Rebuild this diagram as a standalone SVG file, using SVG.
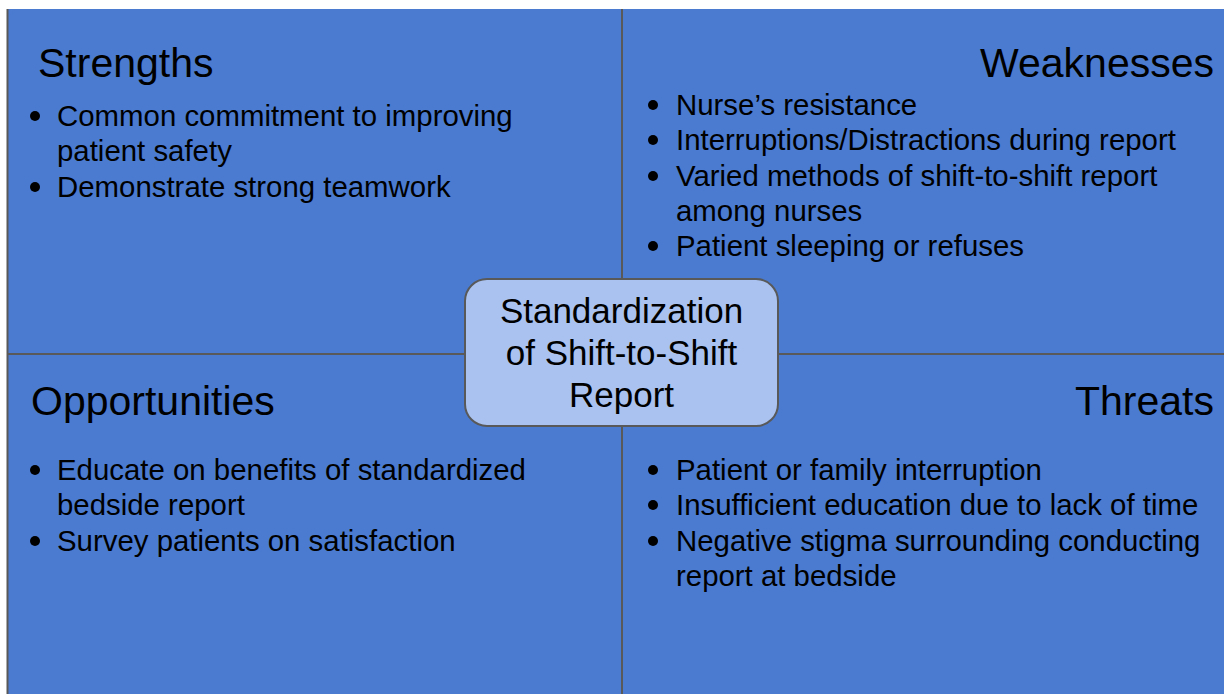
<svg xmlns="http://www.w3.org/2000/svg" width="1224" height="694" viewBox="0 0 1224 694">
  <style>
    text { font-family: "Liberation Sans", Arial, sans-serif; fill: #000000; }
    .heading { font-size: 41px; }
    .item { font-size: 29.4px; }
    .center { font-size: 35px; text-anchor: middle; }
    .divider { stroke: #595959; stroke-width: 2; fill: none; }
    .bullet { fill: #000000; }
    .hub { fill: #a9c2f0; stroke: #595959; stroke-width: 2; }
  </style>

  <!-- page and quadrant background -->
  <rect x="0" y="0" width="1224" height="694" fill="#ffffff"/>
  <rect x="7" y="9" width="1217" height="685" fill="#4a7bd1"/>

  <!-- quadrant dividers -->
  <g id="connectors">
    <line class="divider" x1="7.5" y1="9" x2="7.5" y2="694"/>
    <line class="divider" x1="622" y1="9" x2="622" y2="694"/>
    <line class="divider" x1="7" y1="354" x2="1224" y2="354"/>
  </g>

  <!-- Strengths quadrant -->
  <g id="strengths">
    <text class="heading" x="38" y="77">Strengths</text>
    <circle class="bullet" cx="35" cy="116" r="5"/>
    <text class="item" x="57" y="126">Common commitment to improving</text>
    <text class="item" x="57" y="161">patient safety</text>
    <circle class="bullet" cx="35" cy="187" r="5"/>
    <text class="item" x="57" y="197">Demonstrate strong teamwork</text>
  </g>

  <!-- Weaknesses quadrant -->
  <g id="weaknesses">
    <text class="heading" x="1214" y="77" text-anchor="end">Weaknesses</text>
    <circle class="bullet" cx="653" cy="105" r="5"/>
    <text class="item" x="676" y="115">Nurse’s resistance</text>
    <circle class="bullet" cx="653" cy="140" r="5"/>
    <text class="item" x="676" y="150">Interruptions/Distractions during report</text>
    <circle class="bullet" cx="653" cy="176" r="5"/>
    <text class="item" x="676" y="186">Varied methods of shift-to-shift report</text>
    <text class="item" x="676" y="221">among nurses</text>
    <circle class="bullet" cx="653" cy="246" r="5"/>
    <text class="item" x="676" y="256">Patient sleeping or refuses</text>
  </g>

  <!-- Opportunities quadrant -->
  <g id="opportunities">
    <text class="heading" x="31" y="415">Opportunities</text>
    <circle class="bullet" cx="35" cy="470" r="5"/>
    <text class="item" x="57" y="480">Educate on benefits of standardized</text>
    <text class="item" x="57" y="515">bedside report</text>
    <circle class="bullet" cx="35" cy="541" r="5"/>
    <text class="item" x="57" y="551">Survey patients on satisfaction</text>
  </g>

  <!-- Threats quadrant -->
  <g id="threats">
    <text class="heading" x="1214" y="415" text-anchor="end">Threats</text>
    <circle class="bullet" cx="653" cy="470" r="5"/>
    <text class="item" x="676" y="480">Patient or family interruption</text>
    <circle class="bullet" cx="653" cy="505" r="5"/>
    <text class="item" x="676" y="515">Insufficient education due to lack of time</text>
    <circle class="bullet" cx="653" cy="541" r="5"/>
    <text class="item" x="676" y="551">Negative stigma surrounding conducting</text>
    <text class="item" x="676" y="586">report at bedside</text>
  </g>

  <!-- central topic -->
  <g id="topic">
    <rect class="hub" x="465" y="279" width="313" height="147" rx="22" ry="22"/>
    <text class="center" x="621.5" y="323">Standardization</text>
    <text class="center" x="621.5" y="365">of Shift-to-Shift</text>
    <text class="center" x="621.5" y="407">Report</text>
  </g>
</svg>
